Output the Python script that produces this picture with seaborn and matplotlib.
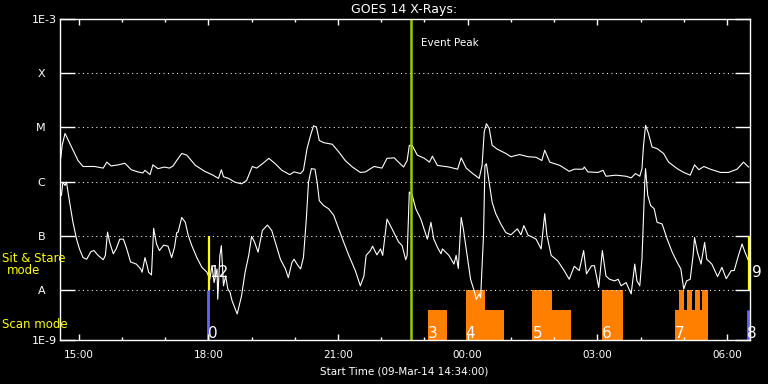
import matplotlib
matplotlib.use('Agg')
import matplotlib.pyplot as plt
import matplotlib.dates as mdates
import matplotlib.ticker as mticker
import numpy as np
import pandas as pd
import seaborn as sns

# start of the plot window
start = pd.Timestamp('2014-03-09 14:34:00')
span_min = 958

# GOES long channel (1-8 A): minutes after start, log10 flux
long_min = [1, 3, 7, 16, 25, 32, 48, 60, 65, 71,
            81, 90, 99, 108, 115, 118, 125, 129, 136, 145,
            152, 157, 162, 169, 176, 188, 201, 211, 220, 224,
            227, 234, 243, 252, 259, 267, 273, 281, 290, 299,
            308, 319, 325, 334, 338, 343, 348, 352, 356, 360,
            366, 378, 387, 396, 406, 417, 424, 436, 447, 454,
            464, 470, 477, 482, 485, 489, 496, 506, 513, 517,
            524, 540, 552, 557, 564, 573, 582, 586, 589, 592,
            596, 600, 607, 619, 626, 638, 650, 661, 669, 673,
            680, 694, 707, 714, 726, 728, 733, 747, 754, 758,
            772, 786, 793, 799, 805, 808, 810, 813, 817, 822,
            829, 838, 845, 857, 866, 875, 881, 887, 894, 903,
            917, 928, 940, 949, 956]
long_log = [-5.57, -5.33, -5.11, -5.36, -5.61, -5.72, -5.72, -5.75, -5.64, -5.71,
            -5.69, -5.66, -5.78, -5.82, -5.84, -5.79, -5.87, -5.69, -5.76, -5.73,
            -5.75, -5.71, -5.61, -5.48, -5.51, -5.70, -5.81, -5.87, -5.94, -5.78,
            -5.91, -5.94, -6.01, -6.04, -5.98, -5.72, -5.75, -5.67, -5.57, -5.67,
            -5.79, -5.87, -5.82, -5.85, -5.79, -5.39, -5.14, -4.97, -4.99, -5.24,
            -5.28, -5.31, -5.45, -5.61, -5.73, -5.83, -5.82, -5.72, -5.75, -5.57,
            -5.56, -5.64, -5.73, -5.61, -5.33, -5.33, -5.51, -5.57, -5.64, -5.53,
            -5.70, -5.73, -5.77, -5.56, -5.75, -5.85, -5.94, -5.70, -5.08, -4.93,
            -5.02, -5.33, -5.40, -5.48, -5.54, -5.50, -5.54, -5.55, -5.61, -5.42,
            -5.64, -5.70, -5.81, -5.77, -5.77, -5.73, -5.82, -5.83, -5.79, -5.90,
            -5.88, -5.90, -5.93, -5.85, -5.90, -5.76, -5.36, -4.96, -5.11, -5.36,
            -5.39, -5.48, -5.64, -5.76, -5.83, -5.88, -5.69, -5.78, -5.72, -5.77,
            -5.83, -5.83, -5.77, -5.64, -5.73]

# GOES short channel (0.5-4 A)
short_min = [2, 4, 7, 9, 13, 18, 23, 27, 32, 37,
             43, 47, 53, 60, 63, 66, 69, 74, 78, 83,
             88, 92, 98, 106, 112, 114, 118, 121, 123, 127,
             130, 134, 138, 144, 150, 155, 159, 162, 164, 169,
             174, 178, 183, 190, 197, 204, 208, 211, 214, 218,
             219, 222, 224, 227, 230, 233, 236, 239, 246, 252,
             257, 262, 266, 270, 275, 281, 288, 294, 299, 306,
             313, 317, 322, 325, 329, 334, 338, 342, 345, 349,
             354, 357, 360, 366, 373, 380, 387, 394, 401, 410,
             417, 422, 425, 431, 434, 440, 445, 448, 454, 461,
             470, 475, 480, 482, 485, 489, 494, 501, 510, 515,
             519, 524, 529, 531, 540, 547, 550, 553, 557, 560,
             566, 570, 575, 578, 582, 584, 588, 590, 592, 595,
             600, 605, 612, 619, 626, 635, 640, 644, 650, 654,
             661, 668, 673, 676, 682, 691, 700, 707, 714, 721,
             727, 731, 738, 742, 748, 753, 758, 763, 770, 775,
             779, 786, 793, 798, 801, 805, 808, 812, 813, 816,
             820, 825, 829, 836, 843, 850, 857, 862, 866, 870,
             875, 879, 881, 885, 890, 895, 898, 905, 913, 919,
             925, 932, 936, 942, 947, 951, 956]
short_log = [-6.25, -6.01, -6.07, -6.01, -6.35, -6.75, -7.06, -7.24, -7.40, -7.43,
             -7.29, -7.27, -7.36, -7.44, -7.36, -6.93, -7.12, -7.33, -7.24, -7.06,
             -7.06, -7.21, -7.48, -7.52, -7.61, -7.67, -7.40, -7.55, -7.67, -7.72,
             -6.86, -7.15, -7.27, -7.17, -7.19, -7.40, -7.21, -6.94, -6.93, -6.66,
             -6.75, -6.99, -7.18, -7.40, -7.58, -7.67, -7.80, -7.55, -7.86, -7.61,
             -8.17, -7.36, -7.18, -7.92, -7.74, -7.98, -8.04, -8.20, -8.44, -8.11,
             -7.67, -7.36, -7.01, -7.11, -7.30, -6.90, -6.80, -6.90, -7.12, -7.43,
             -7.61, -7.77, -7.49, -7.43, -7.52, -7.61, -7.40, -6.69, -6.01, -5.76,
             -5.77, -6.01, -6.35, -6.44, -6.50, -6.62, -6.87, -7.12, -7.36, -7.64,
             -7.92, -7.74, -7.36, -7.27, -7.19, -7.35, -7.24, -7.36, -6.69, -6.87,
             -7.11, -7.18, -7.44, -7.36, -6.19, -6.25, -6.50, -6.69, -7.06, -6.75,
             -7.06, -7.21, -7.33, -7.24, -7.36, -7.52, -7.36, -7.60, -6.66, -6.87,
             -7.43, -7.80, -8.01, -8.17, -8.07, -8.14, -6.99, -5.70, -5.67, -5.94,
             -6.38, -6.59, -6.78, -6.94, -6.98, -6.87, -6.98, -6.81, -6.99, -7.01,
             -7.06, -7.24, -6.59, -6.99, -7.36, -7.46, -7.64, -7.80, -7.56, -7.64,
             -7.27, -7.70, -7.55, -7.55, -7.95, -7.27, -7.74, -7.80, -7.83, -7.80,
             -7.92, -7.86, -8.07, -7.52, -7.83, -7.92, -7.43, -5.98, -5.76, -6.25,
             -6.44, -6.50, -6.75, -6.78, -7.06, -7.30, -7.49, -7.61, -7.98, -7.83,
             -7.80, -7.36, -7.03, -7.30, -7.52, -7.12, -7.43, -7.52, -7.75, -7.58,
             -7.79, -7.64, -7.64, -7.36, -7.15, -7.30, -7.46]

# flare classes on the y axis
class_flux = [1e-9, 1e-8, 1e-7, 1e-6, 1e-5, 1e-4, 1e-3]
class_labels = ['1E-9', 'A   ', 'B   ', 'C   ', 'M   ', 'X   ', '1E-3']

event_peak_min = 487.5

# scan mode observation blocks (orange): start, end, level (1 = full)
bar_start = [511, 563, 590, 656, 683, 753, 854, 860, 871, 881, 892]
bar_end = [538, 590, 617, 683, 710, 781, 899, 867, 878, 888, 899]
bar_level = [0.6, 1, 0.6, 1, 0.6, 1, 0.6, 1, 1, 1, 1]

# numbered observations
scan_ids = ['0', '3', '4', '5', '6', '7', '8']
scan_id_min = [205, 511, 563, 656, 753, 854, 954]
scan_marker_min = [205, 955]
scan_marker_level = [1.0, 0.6]
stare_ids = ['12', '9']
stare_id_min = [207, 961]
stare_marker_min = [207, 956.5]


def to_time(minutes):
    return start + pd.to_timedelta(np.asarray(minutes, dtype=float), unit='m')


plt.rcParams['font.family'] = ['DejaVu Sans']
fig = plt.figure(figsize=(7.68, 3.84), dpi=100, facecolor='black')

# lower panel for the observing mode blocks
mx = fig.add_axes([60 / 768, 1 - 340 / 384, 690 / 768, 50 / 384], zorder=1)
mx.set_facecolor('black')
mx.axis('off')

ax = fig.add_axes([60 / 768, 1 - 340 / 384, 690 / 768, 321 / 384], zorder=2)
ax.set_facecolor('none')

sns.lineplot(x=to_time(long_min), y=10 ** np.array(long_log), ax=ax,
             color='white', lw=0.8, estimator=None, sort=False)
sns.lineplot(x=to_time(short_min), y=10 ** np.array(short_log), ax=ax,
             color='white', lw=0.8, estimator=None, sort=False)

ax.set_yscale('log')
ax.set_ylim(10 ** -8.92, 1e-3)
ax.set_xlim(start, start + pd.Timedelta(minutes=span_min))

ax.yaxis.set_major_locator(mticker.FixedLocator([10 ** -8.92] + class_flux[1:]))
ax.yaxis.set_major_formatter(mticker.FixedFormatter(class_labels))
ax.yaxis.set_minor_locator(mticker.NullLocator())
ax.xaxis.set_major_locator(mdates.HourLocator(byhour=range(0, 24, 3)))
ax.xaxis.set_minor_locator(mdates.HourLocator())
ax.xaxis.set_major_formatter(mdates.DateFormatter('%H:%M'))

for side in ax.spines.values():
    side.set_color('white')
    side.set_linewidth(1)

ax.tick_params(axis='y', which='major', direction='in', length=11, width=1,
               left=True, right=True, colors='white', labelsize=8, pad=2.5)
ax.tick_params(axis='x', which='major', direction='in', length=4.5, width=1,
               top=True, bottom=True, colors='white', labelsize=7.5, pad=7)
ax.tick_params(axis='x', which='minor', direction='in', length=2.2, width=1,
               top=True, bottom=True, colors='white')

for f in class_flux[1:-1]:
    ax.axhline(f, color='white', lw=0.75, ls=(0, (1, 3.3)), zorder=0)

# event peak
peak_t = to_time([event_peak_min])[0]
ax.axvline(peak_t, color='#9acd00', lw=1.8)
ax.text(peak_t + pd.Timedelta(minutes=14), 10 ** -3.45, 'Event Peak',
        color='white', fontsize=7.5, va='center', ha='left')

# sit & stare markers
ax.vlines(to_time(stare_marker_min), 1e-8, 1e-7, color='#ffff00', lw=1.6)
for lab, m in zip(stare_ids, stare_id_min):
    ax.text(to_time([m])[0], 10 ** -7.67, lab, color='white', fontsize=11,
            va='center', ha='left', clip_on=False)

# scan mode blocks
mx.set_xlim(ax.get_xlim())
mx.set_ylim(0, 1)
x0 = mdates.date2num(to_time(bar_start).to_pydatetime())
widths = (np.array(bar_end) - np.array(bar_start)) / 1440.0
mx.bar(x0, bar_level, width=widths, align='edge', color='#ff8000', lw=0)
mx.vlines(mdates.date2num(to_time(scan_marker_min).to_pydatetime()), 0,
          scan_marker_level, color='#6464ff', lw=2)
for lab, m in zip(scan_ids, scan_id_min):
    mx.text(mdates.date2num(to_time([m])[0].to_pydatetime()), 0.04, lab,
            color='white', fontsize=11, va='baseline', ha='left', clip_on=False)

ax.set_xlabel('')
ax.set_ylabel('')
fig.text(404 / 768, 1 - 10 / 384, 'GOES 14 X-Rays:', color='white',
         fontsize=9, ha='center', va='center')
fig.text(404 / 768, 1 - 371 / 384, 'Start Time (09-Mar-14 14:34:00)',
         color='white', fontsize=7.5, ha='center', va='center')
fig.text(2 / 768, 1 - 259 / 384, 'Sit & Stare', color='#ffff00', fontsize=8.5,
         ha='left', va='center')
fig.text(24 / 768, 1 - 271 / 384, 'mode', color='#ffff00', fontsize=8.5,
         ha='center', va='center')
fig.text(2 / 768, 1 - 324 / 384, 'Scan mode', color='#ffff00', fontsize=8.5,
         ha='left', va='center')

fig.savefig('out.png', dpi=100, facecolor='black')
